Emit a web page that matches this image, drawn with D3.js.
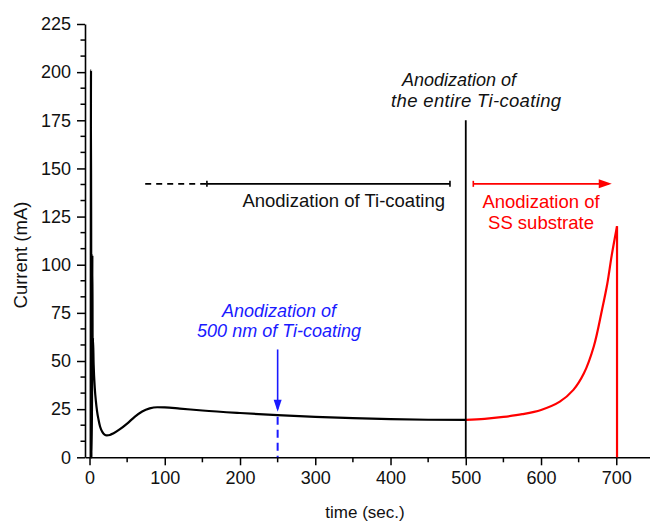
<!DOCTYPE html>
<html>
<head>
<meta charset="utf-8">
<script src="https://cdn.jsdelivr.net/npm/d3@7"></script>
<style>
  html, body { margin: 0; padding: 0; background: #fff; }
  svg { display: block; font-family: "Liberation Sans", Arial, sans-serif; }
</style>
</head>
<body>
<svg id="chart" width="650" height="521"></svg>
<script>
// Anodization current transient: Ti coating stage (black) and SS substrate stage (red)
const timeTi = [1.5, 2, 2.5, 3.2, 3.8, 4.2, 4.6, 5.5, 7, 8.5, 10, 12, 14, 17, 20, 23, 27, 32, 40, 50, 60, 70, 80, 90, 100, 120, 150, 200, 250, 300, 350, 400, 450, 500];
const currentTi = [0, 201, 0, 0, 105, 50, 62, 48, 36, 29, 24, 19.5, 16, 13.2, 11.8, 11.4, 11.6, 12.5, 14.5, 17.5, 21, 23.8, 25.4, 26, 25.9, 25.3, 24.3, 23, 21.9, 21, 20.3, 19.8, 19.5, 19.4];

const timeSS = [500, 525, 550, 575, 600, 625, 643, 657, 670, 681, 688, 694, 701, 701];
const currentSS = [19.4, 20, 21, 22.4, 24.6, 28.9, 35, 43.6, 57.4, 76.5, 90, 105, 120, 0];

const xTicks = [0, 100, 200, 300, 400, 500, 600, 700];
const yTicks = [0, 25, 50, 75, 100, 125, 150, 175, 200, 225];

const svg = d3.select("#chart");
const x = d3.scaleLinear().domain([-6, 750]).range([85, 653.9]);
const y = d3.scaleLinear().domain([0, 225]).range([457.3, 24]);

const font = '"Liberation Sans", Arial, sans-serif';

// axes
const xAxis = d3.axisBottom(x).tickValues(xTicks).tickSize(8).tickPadding(6).tickSizeOuter(0);
const yAxis = d3.axisLeft(y).tickValues(yTicks).tickSize(8).tickPadding(6).tickSizeOuter(0);

const xMinor = d3.range(50, 750, 100);
const yMinor = d3.range(0, 225, 25).flatMap(v => [v + 25 / 3, v + 50 / 3]);

const gx = svg.append("g").attr("transform", `translate(0,${y(0)})`);
gx.selectAll(".minor").data(xMinor).join("line")
  .attr("x1", d => x(d)).attr("x2", d => x(d))
  .attr("y1", 0).attr("y2", 5)
  .attr("stroke", "#000").attr("stroke-width", 1.5);
gx.call(xAxis);

const gy = svg.append("g").attr("transform", `translate(${x(-6)},0)`);
gy.selectAll(".minor").data(yMinor).join("line")
  .attr("x1", 0).attr("x2", -4.5)
  .attr("y1", d => y(d)).attr("y2", d => y(d))
  .attr("stroke", "#000").attr("stroke-width", 1.5);
gy.call(yAxis);

[gx, gy].forEach(g => {
  g.select(".domain").attr("stroke", "#000").attr("stroke-width", 1.6);
  g.selectAll(".tick line").attr("stroke", "#000").attr("stroke-width", 1.5);
  g.selectAll(".tick text").attr("fill", "#111").style("font-size", "18px").style("font-family", font);
});

// axis titles
svg.append("text")
  .attr("x", 365).attr("y", 518)
  .attr("text-anchor", "middle")
  .style("font-size", "17px").attr("fill", "#111")
  .text("time (sec.)");
svg.append("text")
  .attr("transform", `translate(27,255) rotate(-90)`)
  .attr("text-anchor", "middle")
  .style("font-size", "18.5px").attr("fill", "#111")
  .text("Current (mA)");

// current curves
const spiky = d3.line().x(d => x(d[0])).y(d => y(d[1])).curve(d3.curveMonotoneX);
const smooth = d3.line().x(d => x(d[0])).y(d => y(d[1])).curve(d3.curveCatmullRom.alpha(0.5));
const straight = d3.line().x(d => x(d[0])).y(d => y(d[1]));
const ti = d3.zip(timeTi, currentTi);
const ss = d3.zip(timeSS, currentSS);

svg.append("path")
  .datum(ti)
  .attr("d", spiky)
  .attr("fill", "none").attr("stroke", "#000").attr("stroke-width", 2.2)
  .attr("stroke-linejoin", "round");

// rising substrate current, then the cut-off drop at the end of the run
svg.append("path")
  .datum(ss.slice(0, -1))
  .attr("d", smooth)
  .attr("fill", "none").attr("stroke", "#ff0000").attr("stroke-width", 2.2)
  .attr("stroke-linejoin", "round");
svg.append("path")
  .datum(ss.slice(-2))
  .attr("d", straight)
  .attr("fill", "none").attr("stroke", "#ff0000").attr("stroke-width", 2.2);

// end of Ti coating marker
svg.append("line")
  .attr("x1", x(500)).attr("x2", x(500))
  .attr("y1", y(0)).attr("y2", y(175))
  .attr("stroke", "#000").attr("stroke-width", 1.8);

// Ti-coating interval bracket
const bracketY = y(142);
svg.append("line")
  .attr("x1", x(74)).attr("x2", x(156))
  .attr("y1", bracketY).attr("y2", bracketY)
  .attr("stroke", "#000").attr("stroke-width", 1.8)
  .attr("stroke-dasharray", "6,5");
svg.append("line")
  .attr("x1", x(156)).attr("x2", x(479))
  .attr("y1", bracketY).attr("y2", bracketY)
  .attr("stroke", "#000").attr("stroke-width", 1.8);
[156, 479].forEach(t => {
  svg.append("line")
    .attr("x1", x(t)).attr("x2", x(t))
    .attr("y1", bracketY - 3).attr("y2", bracketY + 3)
    .attr("stroke", "#000").attr("stroke-width", 1.6);
});
svg.append("text")
  .attr("x", x(472.4)).attr("y", y(130))
  .attr("text-anchor", "end")
  .style("font-size", "18.5px").attr("fill", "#111")
  .text("Anodization of Ti-coating");

// annotation above the 500 s marker
svg.append("text")
  .attr("x", x(491)).attr("y", 86)
  .attr("text-anchor", "middle").style("font-style", "italic")
  .style("font-size", "18px").attr("fill", "#111")
  .text("Anodization of");
svg.append("text")
  .attr("x", x(513.7)).attr("y", 107)
  .attr("text-anchor", "middle").style("font-style", "italic")
  .style("font-size", "18.5px").attr("fill", "#111")
  .attr("textLength", 170).attr("lengthAdjust", "spacing")
  .text("the entire Ti-coating");

// SS substrate interval arrow
const red = "#ff0000";
svg.append("line")
  .attr("x1", x(510)).attr("x2", x(690))
  .attr("y1", bracketY).attr("y2", bracketY)
  .attr("stroke", red).attr("stroke-width", 1.8);
svg.append("line")
  .attr("x1", x(510)).attr("x2", x(510))
  .attr("y1", bracketY - 3).attr("y2", bracketY + 3)
  .attr("stroke", red).attr("stroke-width", 1.6);
svg.append("path")
  .attr("d", `M${x(694)},${bracketY} L${x(694) - 13},${bracketY - 4.5} L${x(694) - 13},${bracketY + 4.5} Z`)
  .attr("fill", red);
svg.append("text")
  .attr("x", x(600)).attr("y", 208)
  .attr("text-anchor", "middle")
  .style("font-size", "18.5px").attr("fill", red)
  .text("Anodization of");
svg.append("text")
  .attr("x", x(600)).attr("y", 229)
  .attr("text-anchor", "middle")
  .style("font-size", "18.5px").attr("fill", red)
  .text("SS substrate");

// 500 nm marker
const blue = "#1a1aff";
svg.append("text")
  .attr("x", x(251.9)).attr("y", 317)
  .attr("text-anchor", "middle").style("font-style", "italic")
  .style("font-size", "18px").attr("fill", blue)
  .text("Anodization of");
svg.append("text")
  .attr("x", x(251.9)).attr("y", 337)
  .attr("text-anchor", "middle").style("font-style", "italic")
  .style("font-size", "18px").attr("fill", blue)
  .text("500 nm of Ti-coating");
svg.append("line")
  .attr("x1", x(250)).attr("x2", x(250))
  .attr("y1", y(56)).attr("y2", y(25))
  .attr("stroke", blue).attr("stroke-width", 1.6);
svg.append("path")
  .attr("d", `M${x(250)},${y(23.7)} L${x(250) - 4},${y(23.7) - 12} L${x(250) + 4},${y(23.7) - 12} Z`)
  .attr("fill", blue);
svg.append("line")
  .attr("x1", x(250)).attr("x2", x(250))
  .attr("y1", y(21)).attr("y2", y(0))
  .attr("stroke", blue).attr("stroke-width", 2)
  .attr("stroke-dasharray", "8,5");
</script>
</body>
</html>
